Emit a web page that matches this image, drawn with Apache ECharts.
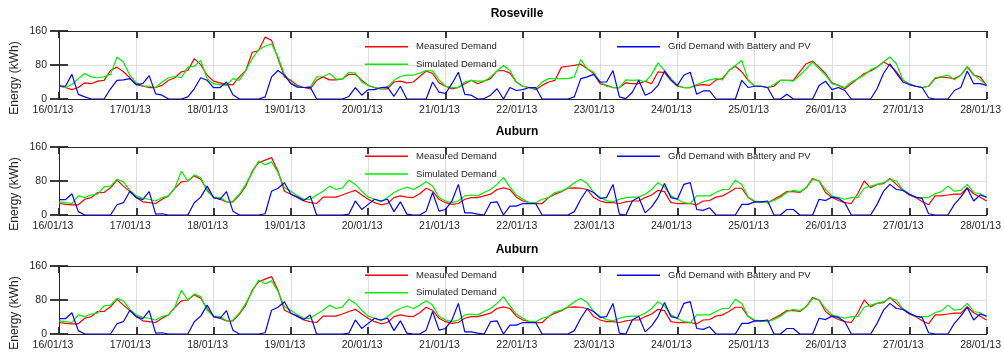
<!DOCTYPE html>
<html>
<head>
<meta charset="utf-8">
<script src="https://cdn.jsdelivr.net/npm/echarts@6/dist/echarts.min.js"></script>
<style>
  html, body { margin: 0; padding: 0; background: #fff; }
  #chart { width: 1004px; height: 354px; }
</style>
</head>
<body>
<div id="chart"></div>
<script>
// Samples are two hours apart, starting 16/01/13 00:00
const STEP_HOURS = 2;
const dayLabels = ['16/01/13', '17/01/13', '18/01/13', '19/01/13', '20/01/13', '21/01/13', '22/01/13',
                   '23/01/13', '24/01/13', '25/01/13', '26/01/13', '27/01/13', '28/01/13'];
const seriesNames = ['Measured Demand', 'Simulated Demand', 'Grid Demand with Battery and PV'];
const panelTitles = ['Roseville', 'Auburn', 'Auburn'];

// Roseville (kWh)
const rosevilleMeasured = [
  31, 27, 22, 27, 38, 36, 42, 44, 67, 75, 64, 50,
  34, 30, 27, 27, 32, 44, 50, 64, 67, 95, 81, 56,
  42, 38, 34, 34, 52, 67, 110, 114, 146, 138, 95, 52,
  44, 32, 27, 24, 44, 52, 45, 45, 47, 58, 58, 44,
  32, 27, 24, 24, 40, 42, 38, 40, 53, 66, 60, 38,
  30, 24, 27, 36, 44, 36, 42, 48, 66, 67, 61, 40,
  30, 27, 22, 32, 40, 44, 75, 77, 79, 82, 71, 60,
  36, 32, 27, 27, 38, 36, 36, 42, 36, 64, 62, 44,
  30, 27, 27, 32, 34, 32, 45, 48, 67, 77, 64, 44,
  30, 30, 27, 30, 44, 44, 44, 64, 83, 89, 75, 60,
  38, 32, 24, 36, 48, 60, 66, 75, 87, 79, 64, 44,
  36, 30, 27, 30, 48, 52, 50, 48, 56, 75, 56, 52,
  32
];
const rosevilleSimulated = [
  31, 27, 34, 48, 60, 52, 50, 52, 58, 99, 87, 56,
  38, 31, 30, 27, 40, 50, 53, 50, 75, 77, 91, 48,
  36, 34, 32, 48, 44, 67, 95, 116, 124, 130, 99, 58,
  38, 30, 27, 28, 52, 53, 60, 47, 47, 63, 61, 40,
  32, 26, 24, 28, 44, 53, 56, 56, 61, 67, 66, 45,
  30, 27, 27, 40, 44, 42, 42, 52, 66, 79, 67, 40,
  30, 27, 24, 40, 48, 48, 48, 48, 52, 93, 71, 63,
  40, 30, 27, 27, 45, 44, 45, 40, 58, 85, 67, 48,
  32, 27, 27, 34, 40, 45, 48, 45, 67, 79, 91, 44,
  30, 30, 27, 34, 44, 44, 42, 56, 71, 87, 71, 56,
  36, 32, 27, 40, 48, 56, 69, 75, 87, 99, 83, 45,
  34, 30, 27, 30, 50, 53, 56, 45, 56, 77, 58, 45,
  32
];
const rosevilleGrid = [
  31, 30, 58, 11, 5, 0, 0, 0, 24, 44, 45, 48,
  34, 36, 55, 12, 9, 0, 0, 0, 5, 24, 50, 44,
  27, 27, 40, 10, 0, 0, 0, 0, 5, 52, 67, 56,
  36, 28, 27, 28, 0, 0, 0, 0, 0, 6, 27, 9,
  22, 22, 27, 28, 6, 30, 0, 0, 0, 0, 40, 16,
  13, 36, 63, 11, 9, 0, 1, 9, 24, 0, 27, 20,
  22, 27, 27, 0, 0, 0, 0, 0, 5, 48, 52, 58,
  40, 40, 67, 5, 1, 16, 44, 9, 16, 32, 66, 45,
  32, 56, 63, 11, 19, 19, 0, 0, 0, 0, 44, 27,
  30, 30, 27, 0, 0, 11, 0, 0, 0, 0, 32, 42,
  22, 27, 20, 0, 0, 0, 0, 24, 60, 83, 61, 40,
  34, 30, 27, 3, 0, 0, 0, 20, 27, 66, 36, 36,
  32
];

// Auburn (kWh)
const auburnMeasured = [
  27, 25, 24, 24, 37, 41, 53, 53, 64, 82, 68, 55,
  41, 31, 29, 27, 37, 45, 63, 78, 80, 92, 84, 60,
  41, 37, 31, 31, 47, 68, 103, 123, 129, 135, 103, 56,
  49, 41, 33, 29, 27, 42, 42, 42, 47, 53, 58, 47,
  37, 29, 24, 27, 41, 45, 42, 41, 50, 63, 56, 37,
  29, 25, 27, 37, 41, 41, 45, 49, 60, 64, 60, 42,
  33, 29, 27, 27, 41, 49, 55, 63, 64, 63, 60, 41,
  33, 29, 29, 27, 31, 33, 33, 41, 47, 58, 55, 29,
  27, 27, 27, 24, 33, 34, 42, 45, 53, 63, 63, 41,
  31, 31, 29, 37, 45, 55, 55, 53, 64, 86, 80, 53,
  41, 34, 29, 27, 50, 80, 64, 72, 74, 86, 72, 58,
  47, 41, 31, 24, 45, 45, 47, 49, 49, 64, 50, 42,
  33
];
const auburnSimulated = [
  31, 29, 27, 45, 41, 47, 49, 66, 68, 84, 78, 58,
  45, 39, 37, 33, 41, 45, 64, 103, 80, 94, 88, 56,
  42, 41, 31, 33, 49, 72, 100, 127, 118, 125, 100, 64,
  56, 45, 37, 37, 47, 56, 68, 60, 64, 82, 72, 56,
  42, 37, 31, 41, 53, 60, 66, 60, 68, 78, 68, 41,
  33, 29, 33, 45, 47, 45, 53, 60, 72, 88, 66, 47,
  37, 29, 29, 37, 41, 53, 56, 64, 76, 84, 74, 53,
  41, 34, 31, 37, 41, 42, 42, 49, 60, 76, 66, 45,
  37, 29, 27, 45, 45, 45, 53, 60, 60, 82, 72, 42,
  33, 31, 29, 34, 42, 53, 58, 55, 64, 84, 80, 60,
  45, 41, 37, 41, 41, 63, 68, 72, 76, 84, 80, 60,
  50, 41, 41, 41, 50, 55, 68, 56, 58, 72, 53, 50,
  41
];
const auburnGrid = [
  36, 36, 50, 8, 0, 0, 0, 0, 0, 24, 29, 56,
  41, 36, 55, 2, 3, 0, 0, 0, 0, 29, 42, 68,
  41, 37, 55, 9, 0, 0, 0, 0, 3, 56, 63, 76,
  49, 42, 34, 45, 0, 0, 0, 0, 0, 2, 33, 13,
  25, 37, 33, 37, 8, 31, 2, 0, 0, 9, 53, 9,
  13, 33, 72, 5, 5, 2, 0, 29, 31, 0, 21, 21,
  27, 27, 27, 0, 0, 0, 0, 0, 8, 37, 60, 53,
  39, 41, 72, 2, 0, 33, 42, 5, 19, 41, 74, 41,
  37, 72, 76, 13, 11, 17, 0, 0, 0, 0, 25, 25,
  31, 31, 33, 0, 0, 13, 13, 0, 0, 0, 37, 34,
  42, 39, 29, 0, 0, 0, 0, 25, 56, 72, 60, 58,
  49, 42, 39, 3, 0, 0, 0, 25, 42, 63, 33, 47,
  42
];

const panelData = [
  [rosevilleMeasured, rosevilleSimulated, rosevilleGrid],
  [auburnMeasured, auburnSimulated, auburnGrid],
  [auburnMeasured, auburnSimulated, auburnGrid]
];

// ---- layout & style ----
const FONT = '"Liberation Sans", Arial, Helvetica, sans-serif';
const INK = '#262626';
const GRID_GRAY = '#dedede';
const COLORS = ['#ff0000', '#00ee00', '#0000ff'];
const layout = [
  { top: 31,  titleY: 14,    rowA: 46.7,  rowB: 64.3 },
  { top: 147, titleY: 131.3, rowA: 156.3, rowB: 174 },
  { top: 266, titleY: 249.3, rowA: 275.3, rowB: 292.7 }
];
const PLOT_LEFT = 59, PLOT_RIGHT = 12, PLOT_H = 68;
const X_MAX = (dayLabels.length - 1) * 24;

const grids = [], xAxes = [], yAxes = [], series = [], legends = [], graphics = [];

layout.forEach((L, i) => {
  grids.push({ left: PLOT_LEFT, right: PLOT_RIGHT, top: L.top, height: PLOT_H });

  const xBase = {
    gridIndex: i, type: 'value', min: 0, max: X_MAX, interval: 24,
    axisLine: { show: true, onZero: false, lineStyle: { color: INK, width: 1 } },
    axisTick: { show: true, inside: true, length: 7, lineStyle: { color: INK, width: 1.8 } }
  };
  xAxes.push(Object.assign({}, xBase, {
    position: 'bottom',
    axisLabel: {
      formatter: v => dayLabels[Math.round(v / 24)],
      fontFamily: FONT, fontSize: 10.5, color: INK, margin: 6,
      padding: [0, 12, 0, 0]
    },
    splitLine: { show: true, lineStyle: { color: GRID_GRAY, width: 1 } }
  }));
  xAxes.push(Object.assign({}, xBase, {
    position: 'top',
    axisLabel: { show: false },
    splitLine: { show: false }
  }));

  const yBase = {
    gridIndex: i, type: 'value', min: 0, max: 160, interval: 80,
    axisLine: { show: true, lineStyle: { color: INK, width: 1 } },
    axisTick: { show: true, inside: true, length: 9, lineStyle: { color: INK, width: 1.8 } }
  };
  yAxes.push(Object.assign({}, yBase, {
    position: 'left',
    axisLabel: { fontFamily: FONT, fontSize: 10.5, color: INK, margin: 12 },
    splitLine: { show: true, lineStyle: { color: GRID_GRAY, width: 1 } }
  }));
  yAxes.push(Object.assign({}, yBase, {
    position: 'right',
    axisLabel: { show: false },
    splitLine: { show: false }
  }));

  panelData[i].forEach((values, s) => {
    series.push({
      name: seriesNames[s],
      type: 'line',
      xAxisIndex: 2 * i,
      yAxisIndex: 2 * i,
      data: values.map((v, k) => [k * STEP_HOURS, v]),
      showSymbol: false,
      symbol: 'none',
      lineStyle: { color: COLORS[s], width: 1.2 },
      itemStyle: { color: COLORS[s] },
      z: 2 + s,
      animation: false
    });
  });

  const legendItem = (name, left, lineY) => ({
    data: [name], left: left, top: lineY - 8, padding: 0,
    icon: 'rect', itemWidth: 43, itemHeight: 1.5, selectedMode: false,
    textStyle: { fontFamily: FONT, fontSize: 9.5, color: INK, lineHeight: 12, padding: [0, 0, 4, 3] }
  });
  legends.push(legendItem(seriesNames[0], 365, L.rowA));
  legends.push(legendItem(seriesNames[1], 365, L.rowB));
  legends.push(legendItem(seriesNames[2], 617, L.rowA));

  graphics.push({
    type: 'text', x: 517, y: L.titleY,
    style: { text: panelTitles[i], font: 'bold 12px ' + FONT, fill: '#000',
             align: 'center', verticalAlign: 'middle', textAlign: 'center', textVerticalAlign: 'middle' }
  });
  graphics.push({
    type: 'text', x: 15, y: L.top + PLOT_H / 2 + 13, rotation: Math.PI / 2,
    style: { text: 'Energy (kWh)', font: '12px ' + FONT, fill: INK,
             align: 'center', verticalAlign: 'middle', textAlign: 'center', textVerticalAlign: 'middle' }
  });
});

const chart = echarts.init(document.getElementById('chart'), null, { renderer: 'canvas' });
chart.setOption({
  backgroundColor: '#fff',
  animation: false,
  grid: grids,
  xAxis: xAxes,
  yAxis: yAxes,
  legend: legends,
  graphic: graphics,
  series: series
});
</script>
</body>
</html>
